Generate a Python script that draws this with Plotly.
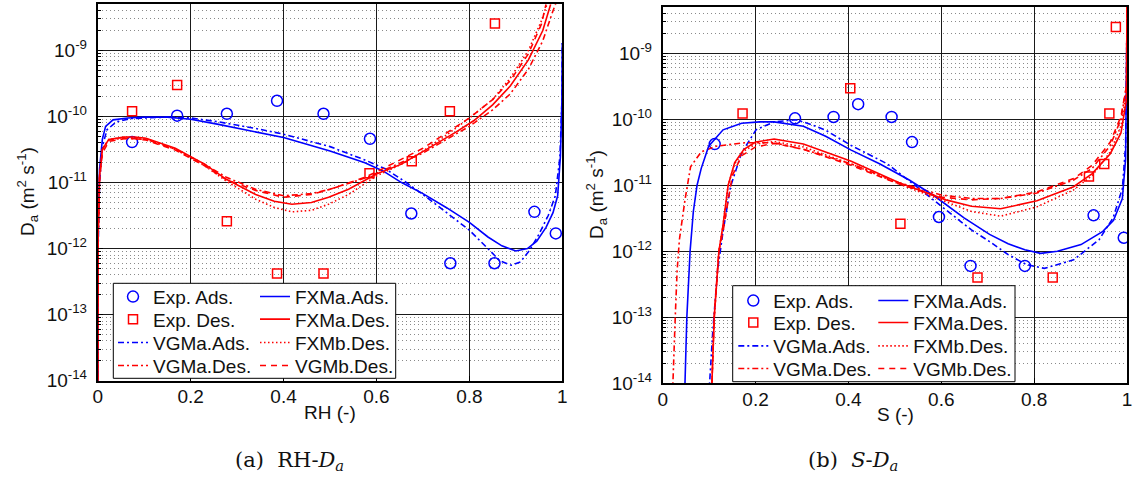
import plotly.graph_objects as go

# ---------------- data : panel (a) RH - Da ----------------
rh_exp_ads_x = [0.074, 0.171, 0.278, 0.386, 0.486, 0.586, 0.675, 0.759, 0.854, 0.940, 0.986]
rh_exp_ads_y = [4.1e-11, 1.03e-10, 1.1e-10, 1.73e-10, 1.1e-10, 4.6e-11, 3.4e-12, 6.0e-13, 6.0e-13, 3.6e-12, 1.7e-12]
rh_exp_des_x = [0.074, 0.171, 0.278, 0.386, 0.486, 0.585, 0.676, 0.758, 0.855]
rh_exp_des_y = [1.2e-10, 3.0e-10, 2.6e-12, 4.2e-13, 4.2e-13, 1.38e-11, 2.1e-11, 1.2e-10, 2.57e-9]

rh_fxma_ads_x = [0, 0.001, 0.004, 0.01, 0.017, 0.033, 0.065, 0.10, 0.15, 0.20, 0.26, 0.34, 0.40, 0.50, 0.575,
                 0.614, 0.654, 0.70, 0.75, 0.80, 0.84, 0.87, 0.90, 0.925, 0.945, 0.965, 0.98, 0.99, 0.996, 0.999, 1.0]
rh_fxma_ads_y = [1e-15, 2.5e-12, 1.6e-11, 4.5e-11, 7.1e-11, 8.9e-11, 9.5e-11, 9.8e-11, 9.8e-11, 9.1e-11, 7.6e-11,
                 5.9e-11, 4.8e-11, 3.0e-11, 2.0e-11, 1.5e-11, 1.0e-11, 6.8e-12, 4.2e-12, 2.5e-12, 1.5e-12, 1.1e-12,
                 9.2e-13, 1.0e-12, 1.3e-12, 2.1e-12, 3.5e-12, 6.3e-12, 2.5e-11, 1.6e-10, 1.3e-9]
rh_vgma_ads_x = [0, 0.001, 0.004, 0.01, 0.02, 0.04, 0.07, 0.10, 0.15, 0.20, 0.26, 0.34, 0.40, 0.50, 0.575, 0.62,
                 0.66, 0.70, 0.75, 0.80, 0.84, 0.865, 0.89, 0.91, 0.93, 0.95, 0.97, 0.985, 0.995, 0.999, 1.0]
rh_vgma_ads_y = [1e-15, 1e-12, 1e-11, 3.5e-11, 6.3e-11, 8.3e-11, 9.3e-11, 9.5e-11, 9.8e-11, 9.5e-11, 8.3e-11,
                 6.6e-11, 5.4e-11, 3.5e-11, 2.2e-11, 1.6e-11, 1.05e-11, 6.6e-12, 3.5e-12, 1.9e-12, 1.0e-12,
                 6.6e-13, 5.6e-13, 6.3e-13, 9.5e-13, 1.66e-12, 3.2e-12, 6.3e-12, 2.5e-11, 1.6e-10, 1.3e-9]
rh_fxma_des_x = [0, 0.001, 0.004, 0.01, 0.024, 0.056, 0.08, 0.104, 0.167, 0.23, 0.277, 0.34, 0.38, 0.418, 0.46,
                 0.497, 0.54, 0.575, 0.60, 0.654, 0.70, 0.732, 0.77, 0.81, 0.85, 0.888, 0.927, 0.958, 0.975]
rh_fxma_des_y = [1e-15, 1.6e-12, 1.26e-11, 3.2e-11, 4.5e-11, 4.9e-11, 4.9e-11, 4.7e-11, 3.3e-11, 1.9e-11, 1.12e-11,
                 6.6e-12, 5.2e-12, 4.7e-12, 5.0e-12, 6.0e-12, 7.9e-12, 1.07e-11, 1.35e-11, 1.9e-11, 2.95e-11,
                 4.1e-11, 5.75e-11, 8.7e-11, 1.5e-10, 2.9e-10, 7.2e-10, 2.0e-9, 5.0e-9]
rh_fxmb_des_x = [0, 0.001, 0.004, 0.01, 0.024, 0.056, 0.08, 0.104, 0.167, 0.23, 0.277, 0.34, 0.38, 0.418, 0.46,
                 0.497, 0.54, 0.575, 0.60, 0.654, 0.70, 0.75, 0.80, 0.85, 0.888, 0.927, 0.955, 0.967]
rh_fxmb_des_y = [1e-15, 1.6e-12, 1.26e-11, 3.2e-11, 4.5e-11, 4.8e-11, 4.8e-11, 4.6e-11, 3.2e-11, 1.8e-11, 1.05e-11,
                 5.6e-12, 4.2e-12, 3.6e-12, 3.8e-12, 4.7e-12, 6.6e-12, 9.5e-12, 1.26e-11, 1.9e-11, 3.0e-11,
                 5.2e-11, 9.5e-11, 1.8e-10, 3.8e-10, 1.0e-9, 2.8e-9, 5.0e-9]
rh_vgma_des_x = [0, 0.001, 0.004, 0.01, 0.024, 0.056, 0.104, 0.167, 0.23, 0.277, 0.34, 0.40, 0.46, 0.50, 0.575,
                 0.60, 0.70, 0.80, 0.85, 0.888, 0.927, 0.958, 0.98, 0.988]
rh_vgma_des_y = [1e-15, 1.6e-12, 1.26e-11, 3.2e-11, 4.4e-11, 4.7e-11, 4.5e-11, 3.2e-11, 1.9e-11, 1.2e-11, 7.9e-12,
                 6.3e-12, 6.8e-12, 7.9e-12, 1.17e-11, 1.38e-11, 2.8e-11, 7.1e-11, 1.26e-10, 2.2e-10, 5.2e-10,
                 1.4e-9, 4.0e-9, 5.6e-9]
rh_vgmb_des_x = [0, 0.001, 0.004, 0.01, 0.024, 0.056, 0.08, 0.104, 0.167, 0.23, 0.277, 0.34, 0.40, 0.46, 0.50,
                 0.575, 0.60, 0.70, 0.80, 0.85, 0.888, 0.927, 0.955, 0.965]
rh_vgmb_des_y = [1e-15, 1.6e-12, 1.1e-11, 2.8e-11, 4.2e-11, 4.6e-11, 4.6e-11, 4.4e-11, 3.1e-11, 1.8e-11, 1.1e-11,
                 7.6e-12, 6.0e-12, 6.6e-12, 7.9e-12, 1.2e-11, 1.45e-11, 3.3e-11, 9.5e-11, 1.8e-10, 3.5e-10,
                 8.9e-10, 2.5e-9, 5.0e-9]

# ---------------- data : panel (b) S - Da ----------------
s_exp_ads_x = [0.112, 0.285, 0.368, 0.421, 0.493, 0.537, 0.595, 0.663, 0.780, 0.928, 0.993]
s_exp_ads_y = [4.2e-11, 1.03e-10, 1.08e-10, 1.69e-10, 1.08e-10, 4.5e-11, 3.3e-12, 6.0e-13, 6.0e-13, 3.5e-12, 1.6e-12]
s_exp_des_x = [0.172, 0.404, 0.512, 0.678, 0.840, 0.918, 0.951, 0.962, 0.976]
s_exp_des_y = [1.22e-10, 2.95e-10, 2.6e-12, 4.0e-13, 4.0e-13, 1.35e-11, 2.1e-11, 1.22e-10, 2.5e-9]

s_fxma_ads_x = [0.046, 0.048, 0.052, 0.059, 0.066, 0.074, 0.083, 0.099, 0.13, 0.17, 0.209, 0.24, 0.303, 0.351,
                0.406, 0.468, 0.531, 0.586, 0.649, 0.704, 0.744, 0.78, 0.814, 0.85, 0.901, 0.948, 0.971, 0.99,
                0.997, 1.0]
s_fxma_ads_y = [1e-15, 1e-14, 1e-13, 1e-12, 4.0e-12, 1.0e-11, 1.8e-11, 3.9e-11, 6.9e-11, 8.7e-11, 9.1e-11, 9.1e-11,
                7.8e-11, 5.5e-11, 3.4e-11, 2.1e-11, 1.2e-11, 6.8e-12, 3.2e-12, 1.8e-12, 1.3e-12, 1.05e-12,
                9.3e-13, 1.0e-12, 1.26e-12, 2.0e-12, 2.95e-12, 6.3e-12, 2.5e-11, 3.2e-9]
s_vgma_ads_x = [0.099, 0.101, 0.108, 0.118, 0.13, 0.146, 0.17, 0.201, 0.24, 0.287, 0.32, 0.351, 0.406, 0.484,
                0.547, 0.61, 0.665, 0.704, 0.744, 0.783, 0.822, 0.885, 0.94, 0.97, 0.99, 0.997, 1.0]
s_vgma_ads_y = [1e-15, 1e-14, 6.3e-14, 5.0e-13, 2.0e-12, 9.5e-12, 3.1e-11, 6.9e-11, 9.1e-11, 9.8e-11, 8.3e-11,
                6.8e-11, 4.0e-11, 2.1e-11, 9.5e-12, 4.3e-12, 2.1e-12, 1.4e-12, 8.9e-13, 6.3e-13, 5.5e-13,
                7.4e-13, 1.5e-12, 3.2e-12, 8.9e-12, 4.0e-11, 3.2e-9]
s_fxma_des_x = [0.104, 0.106, 0.111, 0.121, 0.13, 0.141, 0.155, 0.175, 0.2, 0.24, 0.303, 0.406, 0.508, 0.61,
                0.665, 0.728, 0.806, 0.885, 0.925, 0.964, 0.987, 0.999, 1.0]
s_fxma_des_y = [1e-15, 1e-14, 1e-13, 1e-12, 2.5e-12, 1e-11, 2.2e-11, 3.5e-11, 4.5e-11, 5.0e-11, 4.2e-11, 2.3e-11,
                1.1e-11, 6.0e-12, 4.8e-12, 4.4e-12, 5.8e-12, 9.5e-12, 1.5e-11, 3.0e-11, 6.2e-11, 2.0e-10, 1.0e-8]
s_fxmb_des_x = [0.104, 0.106, 0.111, 0.121, 0.13, 0.141, 0.155, 0.175, 0.2, 0.24, 0.303, 0.406, 0.508, 0.60,
                0.665, 0.728, 0.806, 0.885, 0.925, 0.964, 0.987, 0.999, 1.0]
s_fxmb_des_y = [1e-15, 1e-14, 1e-13, 1e-12, 2.5e-12, 1e-11, 2.1e-11, 3.3e-11, 4.2e-11, 4.6e-11, 3.8e-11, 2.1e-11,
                1.05e-11, 6.0e-12, 4.0e-12, 3.4e-12, 4.7e-12, 8.5e-12, 1.4e-11, 3.2e-11, 7.9e-11, 2.5e-10, 1.0e-8]
s_vgma_des_x = [0.02, 0.022, 0.027, 0.031, 0.036, 0.048, 0.06, 0.083, 0.115, 0.177, 0.24, 0.303, 0.406, 0.508,
                0.60, 0.665, 0.728, 0.806, 0.885, 0.925, 0.964, 0.987, 0.999, 1.0]
s_vgma_des_y = [1e-15, 1e-14, 1e-13, 5.0e-13, 1.5e-12, 6.0e-12, 1.9e-11, 3.2e-11, 3.9e-11, 4.4e-11, 4.4e-11,
                3.5e-11, 2.1e-11, 1.1e-11, 7.1e-12, 6.3e-12, 6.3e-12, 7.6e-12, 1.2e-11, 1.8e-11, 4.0e-11,
                1.0e-10, 3.2e-10, 1.0e-8]
s_vgmb_des_x = [0.104, 0.106, 0.111, 0.121, 0.13, 0.15, 0.17, 0.2, 0.24, 0.303, 0.406, 0.508, 0.60, 0.665, 0.728,
                0.806, 0.885, 0.925, 0.964, 0.987, 0.999, 1.0]
s_vgmb_des_y = [1e-15, 1e-14, 1e-13, 1e-12, 2.0e-12, 1.4e-11, 2.8e-11, 3.8e-11, 4.3e-11, 3.5e-11, 2.0e-11,
                1.05e-11, 6.6e-12, 6.0e-12, 6.3e-12, 7.9e-12, 1.26e-11, 2.0e-11, 4.5e-11, 1.1e-10, 3.2e-10, 1.0e-8]

# ---------------- axis labels ----------------
x_ticks = [0, 0.2, 0.4, 0.6, 0.8, 1.0]
x_ticktext = ["0", "0.2", "0.4", "0.6", "0.8", "1"]
y_ticks = [1e-14, 1e-13, 1e-12, 1e-11, 1e-10, 1e-9]
y_ticktext = ["10<sup>-14</sup>", "10<sup>-13</sup>", "10<sup>-12</sup>", "10<sup>-11</sup>",
              "10<sup>-10</sup>", "10<sup>-9</sup>"]
y_minor = [k * 10.0 ** e for e in range(-14, -8) for k in range(2, 10)]

BLUE = "#0000ff"
RED = "#ff0000"
FONT = "Liberation Sans"
SERIF = "DejaVu Serif"
DASHDOT = "6px,3px,2px,3px"
DOT = "1.5px,2.5px"
DASH = "6px,5px"
W = 1.6
WIDTH, HEIGHT = 1138, 477


def px_x(p):
    return p / WIDTH


def px_y(p):
    return 1 - p / HEIGHT


fig = go.Figure()
legend_slots = {}  # legend id -> (x px, y px)


def add_panel(xa, ya, ea, ed, curves, col1_x, col2_x, rows, idx):
    entries = [
        ("Exp. Ads.", dict(x=ea[0], y=ea[1], mode="markers",
                           marker=dict(symbol="circle-open", size=11, color=BLUE, line=dict(width=1.5, color=BLUE))),
         0, 0),
        ("Exp. Des.", dict(x=ed[0], y=ed[1], mode="markers",
                           marker=dict(symbol="square-open", size=9, color=RED, line=dict(width=1.5, color=RED))),
         0, 1),
    ]
    for name, cx, cy, col, dash, c, r in curves:
        entries.append((name, dict(x=cx, y=cy, mode="lines", line=dict(color=col, width=W, dash=dash)), c, r))
    for name, kw, c, r in entries:
        lid = "legend%d" % idx if idx > 1 else "legend"
        legend_slots[lid] = (col1_x if c == 0 else col2_x, rows[r])
        fig.add_trace(go.Scatter(name=name, xaxis=xa, yaxis=ya, legend=lid, showlegend=True, **kw))
        idx += 1
    return idx


nxt = add_panel("x", "y", (rh_exp_ads_x, rh_exp_ads_y), (rh_exp_des_x, rh_exp_des_y), [
    ("VGMa.Ads.", rh_vgma_ads_x, rh_vgma_ads_y, BLUE, DASHDOT, 0, 2),
    ("VGMa.Des.", rh_vgma_des_x, rh_vgma_des_y, RED, DASHDOT, 0, 3),
    ("FXMa.Ads.", rh_fxma_ads_x, rh_fxma_ads_y, BLUE, "solid", 1, 0),
    ("FXMa.Des.", rh_fxma_des_x, rh_fxma_des_y, RED, "solid", 1, 1),
    ("FXMb.Des.", rh_fxmb_des_x, rh_fxmb_des_y, RED, DOT, 1, 2),
    ("VGMb.Des.", rh_vgmb_des_x, rh_vgmb_des_y, RED, DASH, 1, 3),
], 113.0, 255.0, [296.7, 319.3, 342.7, 365.7], 1)
add_panel("x2", "y2", (s_exp_ads_x, s_exp_ads_y), (s_exp_des_x, s_exp_des_y), [
    ("VGMa.Ads.", s_vgma_ads_x, s_vgma_ads_y, BLUE, DASHDOT, 0, 2),
    ("VGMa.Des.", s_vgma_des_x, s_vgma_des_y, RED, DASHDOT, 0, 3),
    ("FXMa.Ads.", s_fxma_ads_x, s_fxma_ads_y, BLUE, "solid", 1, 0),
    ("FXMa.Des.", s_fxma_des_x, s_fxma_des_y, RED, "solid", 1, 1),
    ("FXMb.Des.", s_fxmb_des_x, s_fxmb_des_y, RED, DOT, 1, 2),
    ("VGMb.Des.", s_vgmb_des_x, s_vgmb_des_y, RED, DASH, 1, 3),
], 733.3, 873.3, [300.7, 322.7, 346.0, 368.7], nxt)


def xaxis_cfg(domain, anchor):
    return dict(domain=domain, anchor=anchor, range=[0, 1], tickmode="array", tickvals=x_ticks,
                ticktext=x_ticktext, showgrid=True, gridcolor="#1a1a1a", gridwidth=1, zeroline=False,
                showline=True, mirror=True, linecolor="black", linewidth=1.8, ticks="inside", ticklen=5,
                tickcolor="black", tickfont=dict(family=FONT, size=19, color="#111"), ticklabelstandoff=-2,
                automargin=False, fixedrange=True)


def yaxis_cfg(domain, anchor):
    return dict(domain=domain, anchor=anchor, type="log", range=[-14, -8.301], tickmode="array",
                tickvals=y_ticks, ticktext=y_ticktext, showgrid=True, gridcolor="#1a1a1a", gridwidth=1,
                zeroline=False, showline=True, mirror=True, linecolor="black", linewidth=1.8, ticks="inside",
                ticklen=5, tickcolor="black", tickfont=dict(family=FONT, size=19, color="#111"),
                ticklabelstandoff=5, automargin=False, fixedrange=True,
                minor=dict(tickmode="array", tickvals=y_minor, showgrid=True, gridcolor="#8a8a8a",
                           griddash="1px,3px", gridwidth=1, ticks="inside", ticklen=3, tickcolor="black"))


layout_legends = {}
for lid, (lx, ly) in legend_slots.items():
    layout_legends[lid] = dict(x=px_x(lx), y=px_y(ly), xanchor="left", yanchor="middle", orientation="v",
                               bgcolor="rgba(0,0,0,0)", borderwidth=0,
                               font=dict(family=FONT, size=19, color="#111"), itemwidth=30,
                               tracegroupgap=0, itemclick=False)


def ann(text, x, y, size=19, family=FONT, angle=0):
    return dict(text=text, x=px_x(x), y=px_y(y), xref="paper", yref="paper", showarrow=False,
                xanchor="center", yanchor="middle", textangle=angle,
                font=dict(family=family, size=size, color="#111"))


fig.update_layout(
    width=WIDTH, height=HEIGHT, margin=dict(l=0, r=0, t=0, b=0, pad=0, autoexpand=False),
    paper_bgcolor="white", plot_bgcolor="white", showlegend=True, hovermode=False,
    xaxis=xaxis_cfg([px_x(97.7), px_x(562.3)], "y"),
    yaxis=yaxis_cfg([px_y(380.7), px_y(4.3)], "x"),
    xaxis2=xaxis_cfg([px_x(662.7), px_x(1127.0)], "y2"),
    yaxis2=yaxis_cfg([px_y(383.3), px_y(7.0)], "x2"),
    shapes=[
        dict(type="rect", xref="paper", yref="paper", x0=px_x(113.3), x1=px_x(395.7), y0=px_y(378.3),
             y1=px_y(283.3), line=dict(color="black", width=1), fillcolor="white", layer="above"),
        dict(type="rect", xref="paper", yref="paper", x0=px_x(732.7), x1=px_x(1015.0), y0=px_y(381.7),
             y1=px_y(285.7), line=dict(color="black", width=1), fillcolor="white", layer="above"),
    ],
    annotations=[
        ann("RH (-)", 330, 412),
        ann("S (-)", 895, 414),
        ann("D<sub>a</sub> (m<sup>2</sup> s<sup>-1</sup>)", 27, 192, angle=-90),
        ann("D<sub>a</sub> (m<sup>2</sup> s<sup>-1</sup>)", 596, 195, angle=-90),
        ann("(a)&nbsp;&nbsp;RH-<i>D<sub>a</sub></i>", 289, 461, size=21, family=SERIF),
        ann("(b)&nbsp;&nbsp;<i>S</i>-<i>D<sub>a</sub></i>", 853, 461, size=21, family=SERIF),
    ],
    **layout_legends,
)

fig.write_html("out.html", config={"displayModeBar": False, "staticPlot": False},
               post_script="document.body.style.margin='0px';")
